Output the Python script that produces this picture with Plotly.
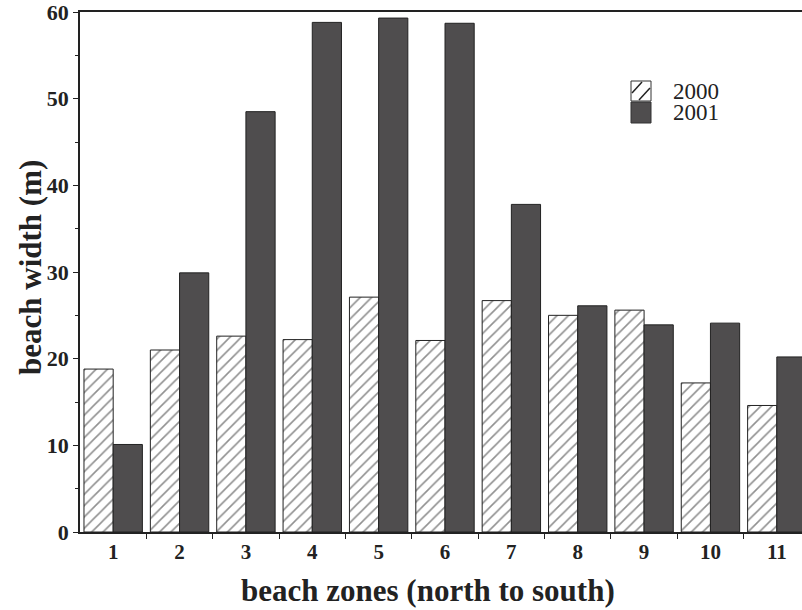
import plotly.graph_objects as go

zones = [1, 2, 3, 4, 5, 6, 7, 8, 9, 10, 11]
tick_labels = [str(z) for z in zones]
width_2000 = [18.8, 21.0, 22.6, 22.2, 27.1, 22.1, 26.7, 25.0, 25.6, 17.2, 14.6]
width_2001 = [10.1, 29.9, 48.5, 58.8, 59.3, 58.7, 37.8, 26.1, 23.9, 24.1, 20.2]

W, H = 802, 610
ML, MR, MT, MB = 80, 0, 12, 78
PW, PH = W - ML - MR, H - MT - MB
FONT = "Liberation Serif"
DARK = "#4f4d4e"

def px_x(x):
    return (x - ML) / PW

def px_y(y):
    return (H - MB - y) / PH

fig = go.Figure()
fig.add_trace(go.Bar(
    x=zones, y=width_2000, name="2000",
    marker=dict(color="white", line=dict(color="#222", width=1),
                pattern=dict(shape="/", fgcolor="#222", bgcolor="white", size=8, solidity=0.2)),
    showlegend=False,
))
fig.add_trace(go.Bar(
    x=zones, y=width_2001, name="2001",
    marker=dict(color=DARK, line=dict(color="#222", width=1)),
    showlegend=False,
))

# manual legend
shapes = []
annotations = []
leg = [("2000", 81, 101, True), ("2001", 102, 123, False)]
for label, y0, y1, hatched in leg:
    shapes.append(dict(type="rect", xref="paper", yref="paper",
                       x0=px_x(631), x1=px_x(651), y0=px_y(y1), y1=px_y(y0),
                       fillcolor="white" if hatched else DARK,
                       line=dict(color="#333", width=1)))
    if hatched:
        for (ax0, ay0, ax1, ay1) in [(632, 93, 642, 82), (639, 100, 650, 88)]:
            shapes.append(dict(type="line", xref="paper", yref="paper",
                               x0=px_x(ax0), y0=px_y(ay0), x1=px_x(ax1), y1=px_y(ay1),
                               line=dict(color="#222", width=1.5)))
    annotations.append(dict(text=label, xref="paper", yref="paper",
                            x=px_x(671), y=px_y((y0 + y1) / 2), xanchor="left", yanchor="middle",
                            showarrow=False, font=dict(family=FONT, size=23, color="#222")))

annotations.append(dict(text="<b>beach width (m)</b>", xref="paper", yref="paper",
                        x=px_x(30), y=px_y(268), textangle=-90, showarrow=False,
                        xanchor="center", yanchor="middle",
                        font=dict(family=FONT, size=31, color="#222")))
annotations.append(dict(text="<b>beach zones (north to south)</b>", xref="paper", yref="paper",
                        x=px_x(428), y=px_y(590), showarrow=False,
                        xanchor="center", yanchor="middle",
                        font=dict(family=FONT, size=31, color="#222")))

fig.update_layout(
    width=W, height=H,
    margin=dict(l=ML, r=MR, t=MT, b=MB),
    paper_bgcolor="white", plot_bgcolor="white",
    barmode="group", bargap=0.12, bargroupgap=0,
    shapes=shapes, annotations=annotations,
)
fig.update_xaxes(
    range=[0.5, 0.5 + 11 * PW / 730], tickvals=zones, ticktext=[f"<b>{t}</b>" for t in tick_labels],
    ticks="", showgrid=False, zeroline=False,
    showline=True, mirror=True, linecolor="#222", linewidth=1.5,
    tickfont=dict(family=FONT, size=21, color="#222"), ticklabeloverflow="allow",
    minor=dict(tickvals=[z + 0.5 for z in zones], ticks="outside", ticklen=5, tickcolor="#222"),
)
fig.update_yaxes(
    range=[0, 60], tickvals=[0, 10, 20, 30, 40, 50, 60],
    ticktext=[f"<b>{v}</b>" for v in [0, 10, 20, 30, 40, 50, 60]],
    ticks="outside", ticklen=5, tickcolor="#222", showgrid=False, zeroline=False,
    showline=True, linecolor="#222", linewidth=1.5,
    tickfont=dict(family=FONT, size=22, color="#222"), ticklabeloverflow="allow",
    minor=dict(dtick=5, ticks="outside", ticklen=3, tickcolor="#222"),
)

fig.write_html("out.html")
